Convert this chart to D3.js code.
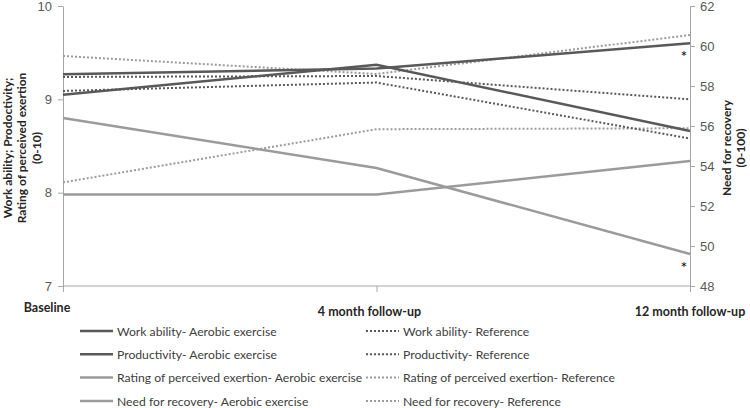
<!DOCTYPE html>
<html>
<head>
<meta charset="utf-8">
<script src="https://cdn.jsdelivr.net/npm/d3@7"></script>
<style>
body { margin: 0; background: #fff; }
svg { font-family: Lato, "Liberation Sans", sans-serif; }
.axis path, .axis line { stroke: #a6a6a6; }
.axis text { fill: #595959; font-size: 13px; font-family: "Liberation Sans", sans-serif; }
</style>
</head>
<body>
<svg width="750" height="408"></svg>
<script>
// time points
var categories = ["Baseline", "4 month follow-up", "12 month follow-up"];

// left axis (0-10) series
var workAerobic = [9.27, 9.33, 9.60];
var prodAerobic = [9.05, 9.37, 8.66];
var rpeAerobic = [7.98, 7.98, 8.34];
var workRef = [9.24, 9.25, 9.00];
var prodRef = [9.09, 9.18, 8.58];
var rpeRef = [8.11, 8.68, 8.69];

// right axis (0-100) series
var nfrAerobic = [56.4, 53.9, 49.6];
var nfrRef = [59.5, 58.6, 60.55];

var leftTicks = [7, 8, 9, 10];
var rightTicks = [48, 50, 52, 54, 56, 58, 60, 62];

var dark = "#595959", light = "#9b9b9b";

var series = [
  {name: "Work ability- Aerobic exercise", values: workAerobic, axis: "L", color: dark, dotted: false},
  {name: "Productivity- Aerobic exercise", values: prodAerobic, axis: "L", color: dark, dotted: false},
  {name: "Rating of perceived exertion- Aerobic exercise", values: rpeAerobic, axis: "L", color: light, dotted: false},
  {name: "Need for recovery- Aerobic exercise", values: nfrAerobic, axis: "R", color: light, dotted: false},
  {name: "Work ability- Reference", values: workRef, axis: "L", color: dark, dotted: true},
  {name: "Productivity- Reference", values: prodRef, axis: "L", color: dark, dotted: true},
  {name: "Rating of perceived exertion- Reference", values: rpeRef, axis: "L", color: light, dotted: true},
  {name: "Need for recovery- Reference", values: nfrRef, axis: "R", color: light, dotted: true}
];

var svg = d3.select("svg");

var x = d3.scalePoint().domain(categories).range([63, 690]);
var yL = d3.scaleLinear().domain([7, 10]).range([286, 6]);
var yR = d3.scaleLinear().domain([48, 62]).range([286, 6]);

// axes
svg.append("g").attr("class", "axis")
  .attr("transform", "translate(63,0)")
  .call(d3.axisLeft(yL).tickValues(leftTicks).tickFormat(d3.format("d")).tickSize(5).tickSizeOuter(0).tickPadding(6));

svg.append("g").attr("class", "axis")
  .attr("transform", "translate(690,0)")
  .call(d3.axisRight(yR).tickValues(rightTicks).tickFormat(d3.format("d")).tickSize(5).tickSizeOuter(0).tickPadding(5));

var xAxis = svg.append("g").attr("class", "axis")
  .attr("transform", "translate(0,286)")
  .call(d3.axisBottom(x).tickSize(6).tickSizeOuter(0).tickFormat(""));
xAxis.select(".domain").attr("d", "M63,0H690");

// category labels
var labelDx = [-16, -7, 0];
var labelDy = [312, 316, 316];
svg.selectAll(".cat").data(categories).enter().append("text")
  .attr("class", "cat")
  .attr("x", function(d, i) { return x(d) + labelDx[i]; })
  .attr("y", function(d, i) { return labelDy[i]; })
  .attr("text-anchor", "middle")
  .style("font-size", "12.5px").style("font-weight", "bold").style("fill", "#262626")
  .text(function(d) { return d; });

// lines
var line = function(s) {
  var y = s.axis == "L" ? yL : yR;
  return d3.line().x(function(d, i) { return x(categories[i]); }).y(function(d) { return y(d); })(s.values);
};

svg.selectAll(".series").data(series.slice().reverse()).enter().append("path")
  .attr("class", "series")
  .attr("d", line)
  .attr("fill", "none")
  .attr("stroke", function(d) { return d.color; })
  .attr("stroke-width", function(d) { return d.dotted ? 2 : 2.5; })
  .attr("stroke-dasharray", function(d) { return d.dotted ? "2,2" : null; });

// significance markers
svg.append("text").attr("x", x(categories[2]) - 6).attr("y", yL(workAerobic[2]) + 19)
  .attr("text-anchor", "middle").style("font-size", "16px").style("fill", "#000").text("*");
svg.append("text").attr("x", x(categories[2]) - 6).attr("y", yR(nfrAerobic[2]) + 19)
  .attr("text-anchor", "middle").style("font-size", "16px").style("fill", "#000").text("*");

// axis titles
var lt = svg.append("text").attr("transform", "translate(22,148) rotate(-90)")
  .attr("text-anchor", "middle").style("font-size", "12px").style("font-weight", "bold").style("fill", "#262626");
["Work ability; Prodoctivity;", "Rating of perceived exertion", "(0-10)"].forEach(function(t, i) {
  lt.append("tspan").attr("x", 0).attr("y", (i - 1) * 14.5 + 4).text(t);
});
var rt = svg.append("text").attr("transform", "translate(734,148) rotate(-90)")
  .attr("text-anchor", "middle").style("font-size", "12px").style("font-weight", "bold").style("fill", "#262626");
["Need for recovery", "(0-100)"].forEach(function(t, i) {
  rt.append("tspan").attr("x", 0).attr("y", (i - 0.5) * 14.5 + 4).text(t);
});

// legend
var legendX = [80, 366];
var legendY = [331, 354.3, 377.6, 401];
var lg = svg.selectAll(".lg").data(series).enter().append("g")
  .attr("class", "lg")
  .attr("transform", function(d, i) { return "translate(" + legendX[Math.floor(i / 4)] + "," + legendY[i % 4] + ")"; });
lg.append("line").attr("x1", 0).attr("x2", 33).attr("y1", 0).attr("y2", 0)
  .attr("stroke", function(d) { return d.color; })
  .attr("stroke-width", function(d) { return d.dotted ? 2 : 2.5; })
  .attr("stroke-dasharray", function(d) { return d.dotted ? "2,2" : null; });
lg.append("text").attr("x", 37).attr("y", 4.5)
  .style("font-size", "12.2px").style("fill", "#404040")
  .text(function(d) { return d.name; });
</script>
</body>
</html>
